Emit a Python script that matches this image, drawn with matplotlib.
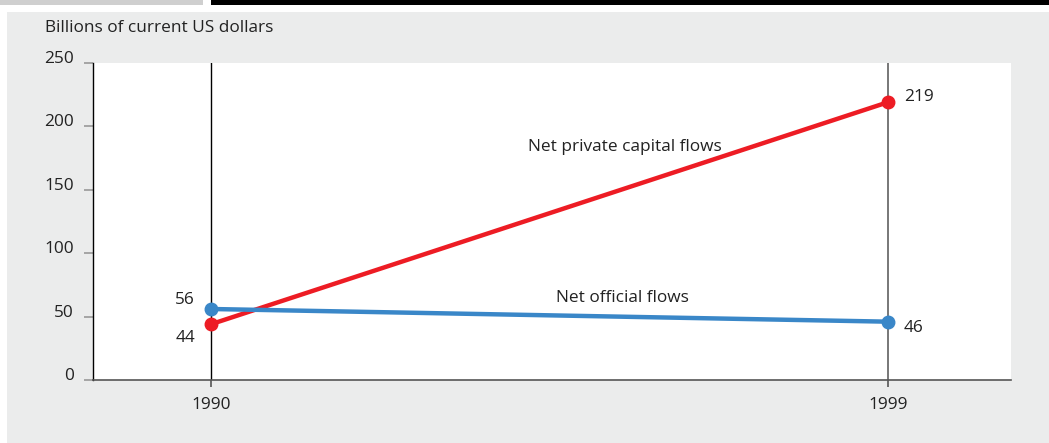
import matplotlib
matplotlib.use('Agg')
import matplotlib.pyplot as plt
from matplotlib.patches import Rectangle

years = [1990, 1999]
private_flows = [44, 219]
official_flows = [56, 46]
series_names = ['Net private capital flows', 'Net official flows']
y_ticks = [0, 50, 100, 150, 200, 250]
y_label = 'Billions of current US dollars'

red = '#ed1c24'
blue = '#3a87c8'
panel = '#ebecec'
ink = '#222222'
fs = 12.4

plt.rcParams['font.family'] = ['Open Sans', 'DejaVu Sans']

W, H = 1049, 443
fig = plt.figure(figsize=(W / 100, H / 100), dpi=100)
fig.patch.set_facecolor('white')

# background panel and cut-off heading strip
fig.add_artist(Rectangle((7 / W, 0), 1 - 7 / W, 1 - 12 / H, transform=fig.transFigure,
                         facecolor=panel, edgecolor='none', zorder=-10))
fig.add_artist(Rectangle((0, 1 - 5 / H), 203 / W, 5 / H, transform=fig.transFigure,
                         facecolor='#cfcfcf', edgecolor='none', zorder=-10))
fig.add_artist(Rectangle((211 / W, 1 - 5 / H), 1 - 211 / W, 5 / H, transform=fig.transFigure,
                         facecolor='black', edgecolor='none', zorder=-10))

x0, x1, ytop, ybot = 93, 1011, 63, 380
ax = fig.add_axes([x0 / W, 1 - ybot / H, (x1 - x0) / W, (ybot - ytop) / H])
ax.set_facecolor('white')
ax.set_xlim(1988.43, 2000.64)
ax.set_ylim(0, 250)

for s in ['top', 'right']:
    ax.spines[s].set_visible(False)
ax.spines['left'].set_color('black')
ax.spines['left'].set_linewidth(1.0)
ax.spines['bottom'].set_color('#555555')
ax.spines['bottom'].set_linewidth(1.2)

ax.axvline(years[0], color='black', lw=1.0, zorder=1)
ax.axvline(years[1], color='#777777', lw=1.4, zorder=1)

ax.set_yticks(y_ticks)
ax.set_yticklabels([str(v) for v in y_ticks])
ax.set_xticks(years)
ax.set_xticklabels([str(v) for v in years])
ax.tick_params(axis='y', length=6.5, width=1.2, color='#999999', labelsize=fs,
               labelcolor=ink, pad=7.5)
ax.tick_params(axis='x', length=5, width=1.2, color='#555555', labelsize=fs,
               labelcolor=ink, pad=7)
for lbl in ax.get_yticklabels():
    lbl.set_verticalalignment('baseline')

ax.plot(years, private_flows, color=red, lw=3.2, marker='o', ms=9, zorder=3,
        solid_capstyle='round')
ax.plot(years, official_flows, color=blue, lw=3.2, marker='o', ms=9, zorder=4,
        solid_capstyle='round')

# end labels
ax.annotate(str(private_flows[1]), (years[1], private_flows[1]), xytext=(12, 4),
            textcoords='offset points', ha='left', va='center', fontsize=fs, color=ink)
ax.annotate(str(official_flows[1]), (years[1], official_flows[1]), xytext=(11.5, -4.5),
            textcoords='offset points', ha='left', va='center', fontsize=fs, color=ink)
ax.annotate(str(official_flows[0]), (years[0], official_flows[0]), xytext=(-11.5, 6.5),
            textcoords='offset points', ha='right', va='center', fontsize=fs, color=ink)
ax.annotate(str(private_flows[0]), (years[0], private_flows[0]), xytext=(-11.5, -10),
            textcoords='offset points', ha='right', va='center', fontsize=fs, color=ink)

# series labels
fig.text(625 / W, 1 - 147 / H, series_names[0], ha='center', va='center',
         fontsize=fs, color=ink)
fig.text(622 / W, 1 - 298 / H, series_names[1], ha='center', va='center',
         fontsize=fs, color=ink)

fig.text(45 / W, 1 - 28 / H, y_label, ha='left', va='center', fontsize=fs, color=ink)

fig.savefig('out.png', dpi=100)
